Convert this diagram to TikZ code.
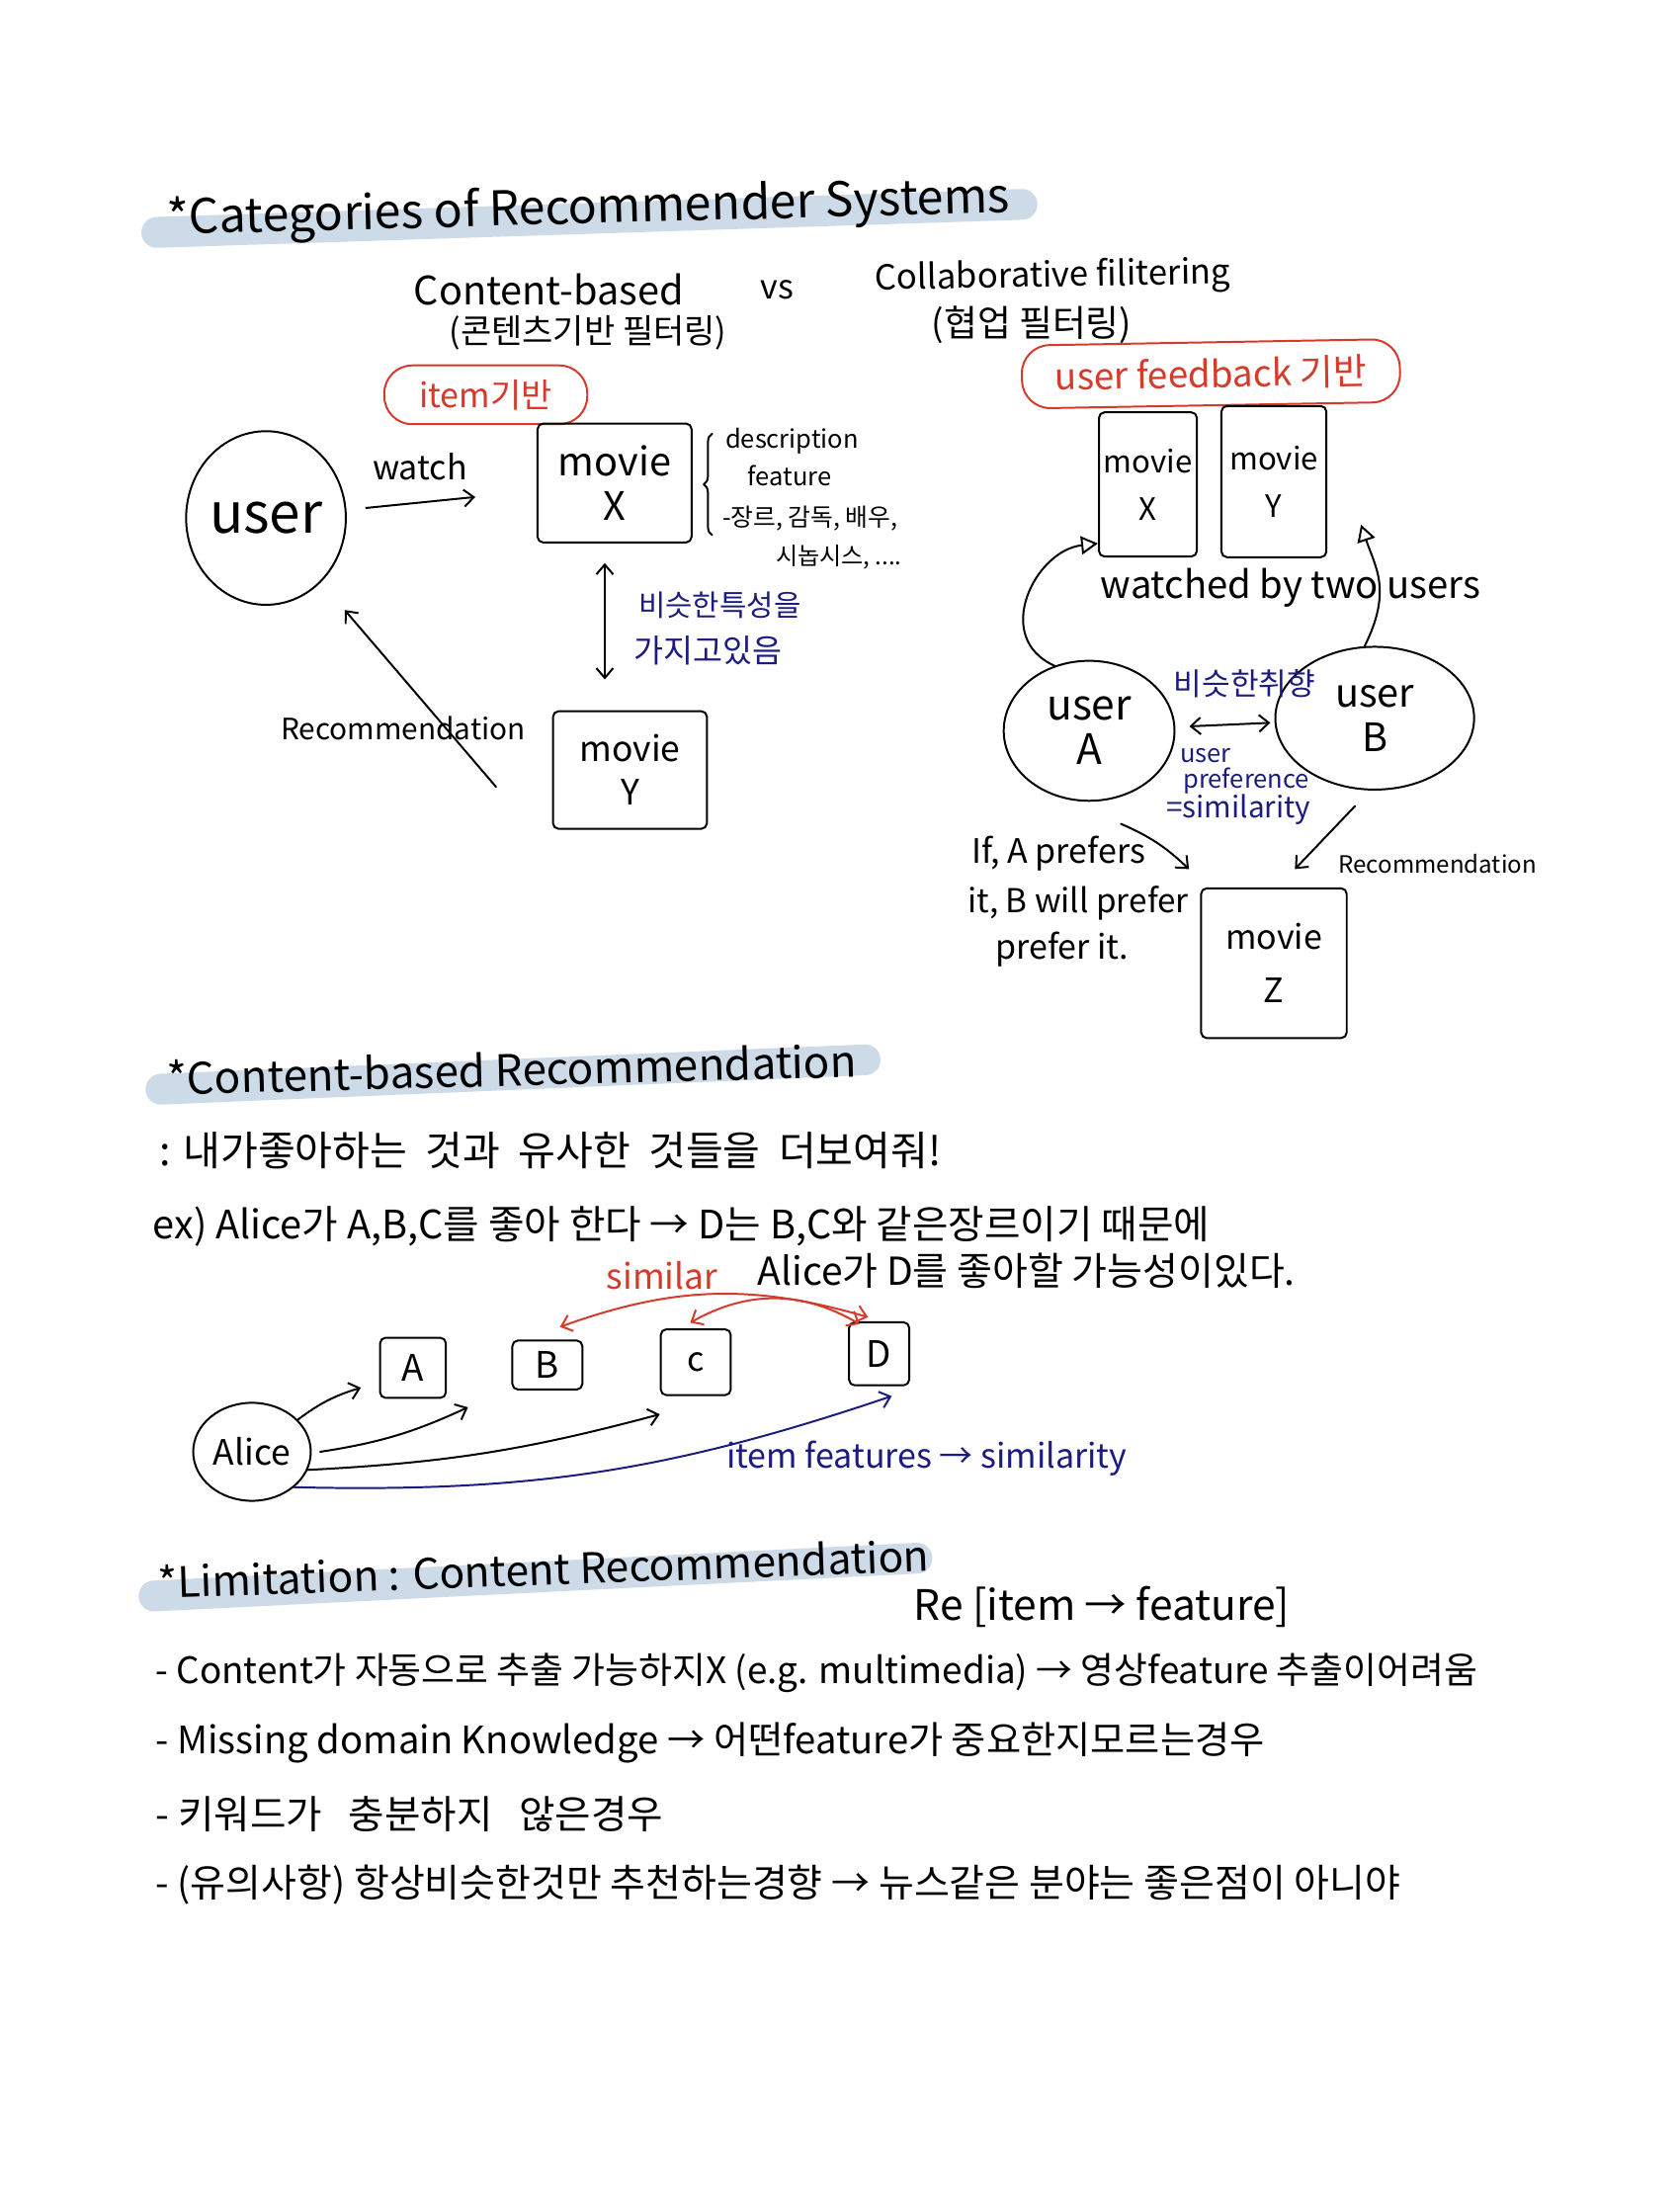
\documentclass[tikz,border=0pt]{standalone}
\usepackage{fontspec}
\setmainfont{Noto Sans CJK KR}
\usetikzlibrary{arrows.meta,shapes.geometric,decorations.pathreplacing,calc}
\definecolor{hlblue}{RGB}{205,218,231}
\definecolor{inkred}{RGB}{214,58,43}
\definecolor{inknavy}{RGB}{28,28,128}
\begin{document}
\begin{tikzpicture}[x=1pt,y=-1pt,
 ink/.style={line width=1.4pt, line cap=round, line join=round},
 hl/.style={line width=22pt, hlblue, line cap=round},
 fs/.style={font=\fontsize{#1}{#1}\selectfont},
 arr/.style={ink,-{Straight Barb[length=7pt,width=12pt]}},
 darr/.style={ink,{Straight Barb[length=7pt,width=12pt]}-{Straight Barb[length=7pt,width=12pt]}},
 tri/.style={ink,-{Triangle[open,length=12pt,width=13pt]}},
 box/.style={draw,ink,rounded corners=4pt,inner sep=0pt,align=center},
 oval/.style={draw,ink,ellipse,inner sep=0pt,align=center},
 lbl/.style={inner sep=1pt},
 redoval/.style={draw,inkred,line width=1.4pt,rounded corners=20pt,inner sep=0pt},
]
\fill[white] (0,0) rectangle (1200,1570);
\useasboundingbox (0,0) rectangle (1200,1570);

% ---------- Title 1 ----------
\draw[hl] (112,166) -- (730,146);
\node[fs=34, anchor=west, rotate=1.5, lbl] (t1) at (118,158) {*Categories of Recommender Systems};

\node[fs=28, lbl] (cb) at (392,207) {Content-based};
\node[fs=24, lbl] (vs) at (555,207) {vs};
\node[fs=24.5, lbl, rotate=1] (cf) at (752,198) {Collaborative filitering};
\node[fs=24, lbl] (cbk) at (420,238) {(콘텐츠기반 필터링)};
\node[fs=26, lbl] (cfk) at (737,232) {(협업 필터링)};

\node[redoval, minimum width=145pt, minimum height=42pt, fs=24, text=inkred] (itemb) at (347,282) {item기반};
\node[redoval, minimum width=270pt, minimum height=45pt, fs=26, text=inkred, rotate=1] (ufb) at (865,267) {user feedback 기반};

% ---------- Left diagram ----------
\node[oval, minimum width=114pt, minimum height=124pt, fs=40] (user) at (190,370) {user};
\node[box, minimum width=110pt, minimum height=85pt, fs=28] (mX) at (439,345) {movie\\[4pt]X};
\draw[arr, shorten <=14pt, shorten >=44pt] (user) -- (mX);
\node[fs=24, lbl] (watch) at (300,333) {watch};

\draw[ink, decorate, decoration={brace, amplitude=6pt}] ([xshift=14pt,yshift=6pt]mX.south east) -- ([xshift=14pt,yshift=-8pt]mX.north east);
\node[fs=18, lbl, anchor=west] (d1) at (517,315) {description};
\node[fs=18, lbl, anchor=west] (d2) at (533,340) {feature};
\node[fs=17.5, lbl, anchor=west] (d3) at (515,370) {-장르, 감독, 배우,};
\node[fs=17, lbl, anchor=west] (d4) at (553,398) {시놉시스, ....};

\node[box, minimum width=110pt, minimum height=84pt, fs=25] (mY) at (450,550) {movie\\[6pt]Y};
\draw[darr, shorten <=14pt, shorten >=22pt] ([xshift=-7pt]mX.south) -- ([xshift=-18pt]mY.north);
\node[fs=21, lbl, anchor=west, text=inknavy] (sim1) at (455,432) {비슷한특성을};
\node[fs=23, lbl, anchor=west, text=inknavy] (sim2) at (452,465) {가지고있음};

\draw[arr, shorten <=0pt, shorten >=26pt] ([xshift=-40pt,yshift=-12pt]mY.west) -- (user);
\node[fs=21, lbl] (rec1) at (288,520) {Recommendation};

% ---------- Right diagram ----------
\node[box, minimum width=70pt, minimum height=103pt, fs=22] (rX) at (820,346) {movie\\[12pt]X};
\node[box, minimum width=75pt, minimum height=108pt, fs=22] (rY) at (910,344) {movie\\[12pt]Y};
\node[fs=27, lbl, anchor=west] (wb) at (785,420) {watched by two users};

\node[oval, minimum width=122pt, minimum height=100pt, fs=30] (uA) at (778,522) {user\\[2pt]A};
\node[oval, minimum width=142pt, minimum height=102pt, fs=28] (uB) at (982,513) {user\\[4pt]B};

\draw[tri] (uA.118) .. controls +(-45,-20) and +(-45,5) .. ([yshift=10pt]rX.south west);
\draw[tri] (uB.98) .. controls +(20,-40) and +(10,30) .. ([xshift=24pt,yshift=24pt]rY.south east);

\draw[darr, shorten <=10pt, shorten >=3pt] (uA) -- (uB);
\node[fs=22, lbl, text=inknavy] (simtaste) at (889,488) {비슷한취향};
\node[fs=18, lbl, anchor=west, text=inknavy] (up1) at (842,540) {user};
\node[fs=18, lbl, anchor=west, text=inknavy] (up2) at (844,558) {preference};
\node[fs=21, lbl, anchor=west, text=inknavy] (up3) at (832,578) {=similarity};

\node[box, minimum width=104pt, minimum height=107pt, fs=24] (mZ) at (910,688) {movie\\[14pt]Z};
\draw[arr] ([xshift=-2pt,yshift=-20pt]uA.-62) to[bend left=10] ([xshift=-8pt,yshift=13pt]mZ.north west);
\draw[arr] ([xshift=-14pt,yshift=-11pt]uB.south) -- ([xshift=15pt,yshift=13pt]mZ.north);
\node[fs=17, lbl, anchor=west] (rec2) at (955,617) {Recommendation};

\node[fs=24, lbl, anchor=west] (if1) at (693,610) {If, A prefers};
\node[fs=23.5, lbl, anchor=west] (if2) at (690,645) {it, B will prefer};
\node[fs=24, lbl, anchor=west] (if3) at (710,678) {prefer it.};

% ---------- Section 2 ----------
\draw[hl] (115,778) -- (618,757);
\node[fs=31, anchor=west, rotate=1.5, lbl] (t2) at (118,770) {*Content-based Recommendation};
\node[fs=29, anchor=west, lbl] (s2a) at (113,822) {: 내가좋아하는\ \ 것과\ \ 유사한\ \ 것들을\ \ 더보여줘!};
\node[fs=28, anchor=west, lbl] (s2b) at (108,876) {ex) Alice가 A,B,C를 좋아 한다 → D는 B,C와 같은장르이기 때문에};
\node[fs=27.5, anchor=west, lbl] (s2c) at (540,908) {Alice가 D를 좋아할 가능성이있다.};
\node[fs=25, lbl, text=inkred] (similar) at (473,911) {similar};

\node[box, minimum width=47pt, minimum height=43pt, fs=26] (A) at (295,977) {A};
\node[box, minimum width=50pt, minimum height=35pt, fs=26] (B) at (391,975) {B};
\node[box, minimum width=50pt, minimum height=47pt, fs=24] (C) at (497,973) {c};
\node[box, minimum width=43pt, minimum height=45pt, fs=26] (D) at (628,967) {D};
\node[oval, minimum width=84pt, minimum height=70pt, fs=25] (Alice) at (180,1037) {Alice};

\draw[arr] (Alice.35) to[bend left=10] ([xshift=-13pt,yshift=8pt]A.south west);
\draw[arr] ([xshift=6pt]Alice.east) to[bend right=8] ([xshift=-31pt,yshift=-12pt]B.south west);
\draw[arr] (Alice.-18) to[bend right=6] ([yshift=-13pt]C.south west);
\draw[arr, inknavy] (Alice.-40) to[bend right=10] ([xshift=9pt,yshift=-7pt]D.south);

\draw[darr, inkred] ([xshift=9pt,yshift=9pt]B.north) to[bend left=18] ([xshift=-8pt,yshift=3pt]D.north);
\draw[darr, inkred] ([xshift=-4pt,yshift=4pt]C.north) to[bend left=30] ([xshift=-14pt,yshift=-2pt]D.north);
\node[fs=24, lbl, text=inknavy] (ifs) at (662,1042) {item features → similarity};

% ---------- Section 3 ----------
\draw[hl] (110,1140) -- (655,1113);
\node[fs=30, anchor=west, rotate=2, lbl] (t3) at (112,1130) {*Limitation : Content Recommendation};
\node[fs=30, lbl] (re) at (787,1148) {Re [item → feature]};
\node[fs=26, anchor=west, lbl] (l1) at (110,1195) {- Content가 자동으로 추출 가능하지X (e.g. multimedia) → 영상feature 추출이어려움};
\node[fs=27, anchor=west, lbl] (l2) at (110,1245) {- Missing domain Knowledge → 어떤feature가 중요한지모르는경우};
\node[fs=28, anchor=west, lbl] (l3) at (110,1296) {- 키워드가~~~충분하지~~~않은경우};
\node[fs=27.5, anchor=west, lbl] (l4) at (110,1346) {- (유의사항) 항상비슷한것만 추천하는경향 → 뉴스같은 분야는 좋은점이 아니야};
\end{tikzpicture}
\end{document}
